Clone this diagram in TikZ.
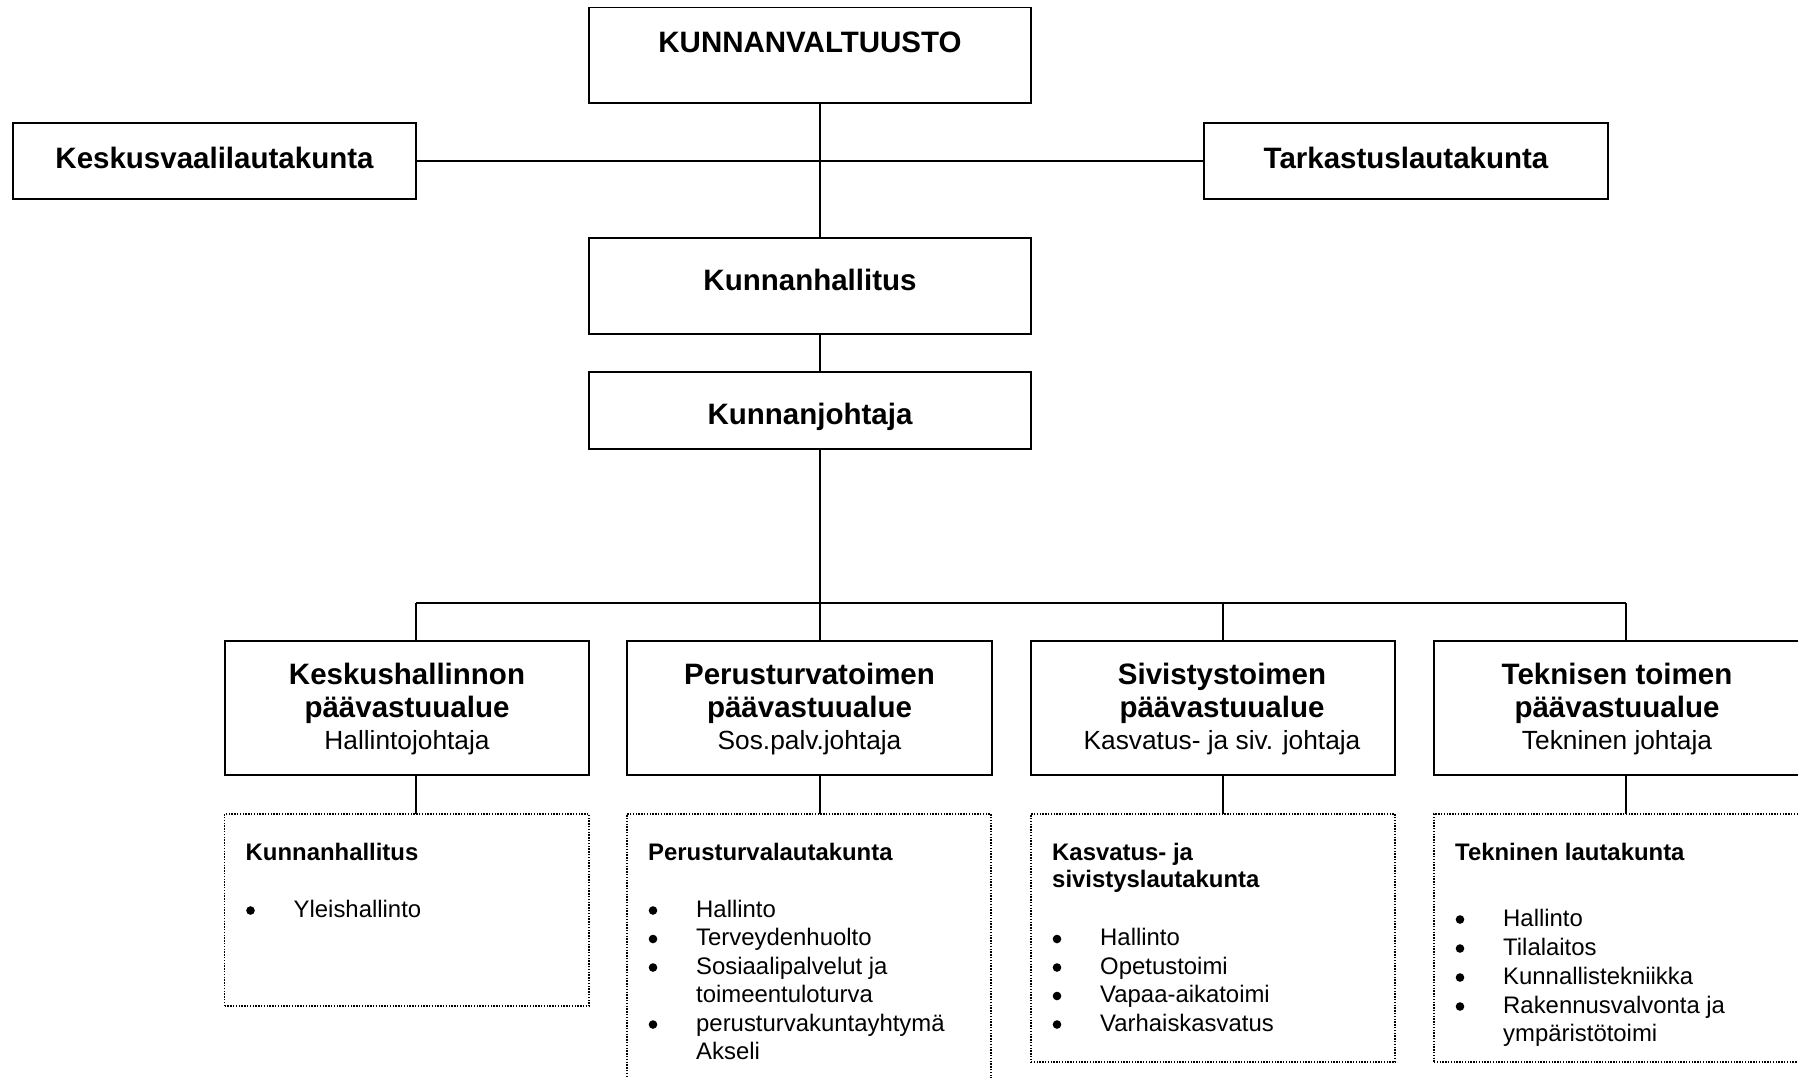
\documentclass[tikz,border=0pt]{standalone}
\usepackage{fontspec}
\setmainfont{Liberation Sans}
\begin{document}
\begin{tikzpicture}[x=1pt,y=-1pt]
\tikzset{
  sbox/.style={draw, rectangle, line width=1.8pt, inner sep=0pt, outer sep=0pt},
  dbox/.style={draw, rectangle, line width=1.4pt, dash pattern=on 1.4pt off 1.4pt, inner sep=0pt, outer sep=0pt},
  connline/.style={line width=1.3pt},
  busline/.style={line width=1.8pt},
  bigtxt/.style={font=\fontsize{29.5}{33}\selectfont\bfseries, anchor=base, inner sep=0pt},
  subtxt/.style={font=\fontsize{26.3}{30}\selectfont, anchor=base, inner sep=0pt},
  ttltxt/.style={font=\fontsize{23.9}{28}\selectfont\bfseries, anchor=base west, inner sep=0pt},
  itemtxt/.style={font=\fontsize{23.9}{28}\selectfont, anchor=base west, inner sep=0pt},
  bulletdot/.style={circle, fill=black, inner sep=0pt, minimum size=8.6pt, yshift=6.5pt},
}
\useasboundingbox (0,0) rectangle (1798,1077);
\fill[white] (0,0) rectangle (1798,1077);
\clip (0,0) rectangle (1798,1077);

% top boxes
\node[sbox, minimum width=442pt, minimum height=95.5pt] (kv) at (810,55.25) {};
\node[sbox, minimum width=403pt, minimum height=76pt] (kvl) at (214.5,161) {};
\node[sbox, minimum width=404pt, minimum height=76pt] (tl) at (1406,161) {};
\node[sbox, minimum width=442pt, minimum height=96pt] (kh) at (810,286) {};
\node[sbox, minimum width=442pt, minimum height=77pt] (kj) at (810,410.5) {};

% main areas
\node[sbox, minimum width=364pt, minimum height=134pt] (b1) at (407,708) {};
\node[sbox, minimum width=365pt, minimum height=134pt] (b2) at (809.5,708) {};
\node[sbox, minimum width=364pt, minimum height=134pt] (b3) at (1213,708) {};
\node[sbox, minimum width=366pt, minimum height=134pt] (b4) at (1617,708) {};

% dotted boxes
\node[dbox, minimum width=364.5pt, minimum height=192pt] (d1) at (406.75,910) {};
\node[dbox, minimum width=364pt, minimum height=276pt] (d2) at (809,952) {};
\node[dbox, minimum width=364pt, minimum height=248pt] (d3) at (1213,938) {};
\node[dbox, minimum width=366pt, minimum height=248pt] (d4) at (1617,938) {};

% connectors
\coordinate (sp) at (820,0);
\coordinate (bus1) at (416,603);
\coordinate (bus2) at (820,603);
\coordinate (bus3) at (1223,603);
\coordinate (bus4) at (1626,603);
\draw[connline] (kv.south -| sp) -- (kh.north -| sp);
\draw[connline] (kvl.east) -- (tl.west);
\draw[connline] (kh.south -| sp) -- (kj.north -| sp);
\draw[connline] (kj.south -| sp) -- (bus2);
\draw[busline] (bus1) -- (bus4);
\draw[connline] (bus1) -- (b1.north -| bus1);
\draw[connline] (bus2) -- (b2.north -| bus2);
\draw[connline] (bus3) -- (b3.north -| bus3);
\draw[connline] (bus4) -- (b4.north -| bus4);
\draw[connline] (b1.south -| bus1) -- (d1.north -| bus1);
\draw[connline] (b2.south -| bus2) -- (d2.north -| bus2);
\draw[connline] (b3.south -| bus3) -- (d3.north -| bus3);
\draw[connline] (b4.south -| bus4) -- (d4.north -| bus4);

% texts top
\node[bigtxt] (tkv) at (810,52) {KUNNANVALTUUSTO};
\node[bigtxt] (tkvl) at (214.5,168) {Keskusvaalilautakunta};
\node[bigtxt] (ttl) at (1406,168) {Tarkastuslautakunta};
\node[bigtxt] (tkh) at (810,290) {Kunnanhallitus};
\node[bigtxt] (tkj) at (810,424) {Kunnanjohtaja};

% texts main areas
\node[bigtxt] (t1a) at (407,684) {Keskushallinnon};
\node[bigtxt] (t1b) at (407,717) {päävastuualue};
\node[subtxt] (t1c) at (407,749) {Hallintojohtaja};
\node[bigtxt] (t2a) at (809.5,684) {Perusturvatoimen};
\node[bigtxt] (t2b) at (809.5,717) {päävastuualue};
\node[subtxt] (t2c) at (809.5,749) {Sos.palv.johtaja};
\node[bigtxt] (t3a) at (1222,684) {Sivistystoimen};
\node[bigtxt] (t3b) at (1222,717) {päävastuualue};
\node[subtxt] (t3c) at (1222,749) {Kasvatus- ja siv. johtaja};
\node[bigtxt] (t4a) at (1617,684) {Teknisen toimen};
\node[bigtxt] (t4b) at (1617,717) {päävastuualue};
\node[subtxt] (t4c) at (1617,749) {Tekninen johtaja};

% dotted box 1
\node[ttltxt] (h1) at (245.5,860) {Kunnanhallitus};
\node[bulletdot] (p1a) at (250.5,917) {};
\node[itemtxt] (i1a) at (293.5,917) {Yleishallinto};

% dotted box 2
\node[ttltxt] (h2) at (648,860) {Perusturvalautakunta};
\node[bulletdot] (p2a) at (653,917) {};
\node[itemtxt] (i2a) at (696,917) {Hallinto};
\node[bulletdot] (p2b) at (653,945.5) {};
\node[itemtxt] (i2b) at (696,945.5) {Terveydenhuolto};
\node[bulletdot] (p2c) at (653,974) {};
\node[itemtxt] (i2c) at (696,974) {Sosiaalipalvelut ja};
\node[itemtxt] (i2d) at (696,1002.5) {toimeentuloturva};
\node[bulletdot] (p2e) at (653,1031) {};
\node[itemtxt] (i2e) at (696,1031) {perusturvakuntayhtymä};
\node[itemtxt] (i2f) at (696,1059.5) {Akseli};

% dotted box 3
\node[ttltxt] (h3a) at (1052,860) {Kasvatus- ja};
\node[ttltxt] (h3b) at (1052,887.5) {sivistyslautakunta};
\node[bulletdot] (p3a) at (1057,945.5) {};
\node[itemtxt] (i3a) at (1100,945.5) {Hallinto};
\node[bulletdot] (p3b) at (1057,974) {};
\node[itemtxt] (i3b) at (1100,974) {Opetustoimi};
\node[bulletdot] (p3c) at (1057,1002.5) {};
\node[itemtxt] (i3c) at (1100,1002.5) {Vapaa-aikatoimi};
\node[bulletdot] (p3d) at (1057,1031) {};
\node[itemtxt] (i3d) at (1100,1031) {Varhaiskasvatus};

% dotted box 4
\node[ttltxt] (h4) at (1455,860) {Tekninen lautakunta};
\node[bulletdot] (p4a) at (1460,926) {};
\node[itemtxt] (i4a) at (1503,926) {Hallinto};
\node[bulletdot] (p4b) at (1460,955) {};
\node[itemtxt] (i4b) at (1503,955) {Tilalaitos};
\node[bulletdot] (p4c) at (1460,984) {};
\node[itemtxt] (i4c) at (1503,984) {Kunnallistekniikka};
\node[bulletdot] (p4d) at (1460,1013) {};
\node[itemtxt] (i4d) at (1503,1013) {Rakennusvalvonta ja};
\node[itemtxt] (i4e) at (1503,1041) {ympäristötoimi};
\end{tikzpicture}
\end{document}
